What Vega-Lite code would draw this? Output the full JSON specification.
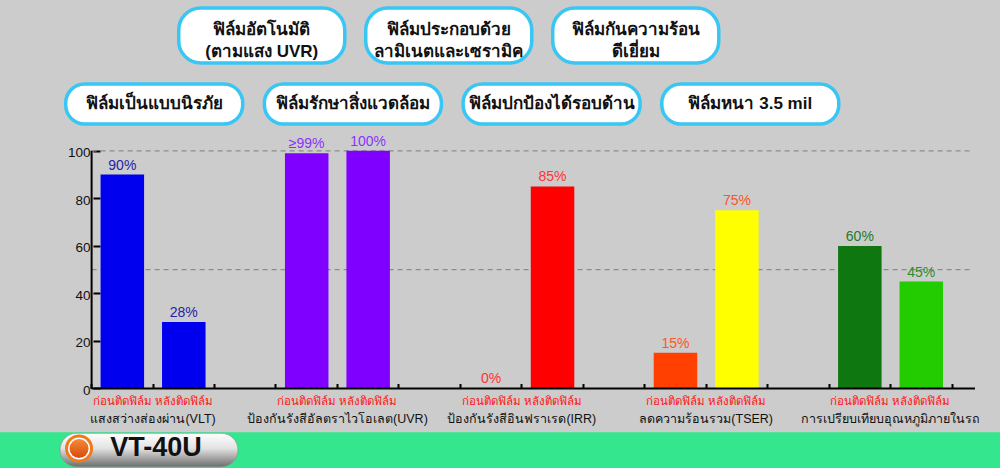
{
  "$schema": "https://vega.github.io/schema/vega-lite/v6.json",
  "width": 1000,
  "height": 473,
  "autosize": {"type": "none"},
  "padding": 0,
  "background": "#cccccc",
  "config": {"view": {"stroke": null}},
  "datasets": {
    "bars": [
      {"bar": "VLT-before", "metric": "แสงสว่างส่องผ่าน(VLT)", "state": "ก่อนติดฟิล์ม", "value": 90, "label": "90%"},
      {"bar": "VLT-after", "metric": "แสงสว่างส่องผ่าน(VLT)", "state": "หลังติดฟิล์ม", "value": 28, "label": "28%"},
      {"bar": "UVR-before", "metric": "ป้องกันรังสีอัลตราไวโอเลต(UVR)", "state": "ก่อนติดฟิล์ม", "value": 99, "label": "≥99%"},
      {"bar": "UVR-after", "metric": "ป้องกันรังสีอัลตราไวโอเลต(UVR)", "state": "หลังติดฟิล์ม", "value": 100, "label": "100%"},
      {"bar": "IRR-before", "metric": "ป้องกันรังสีอินฟราเรด(IRR)", "state": "ก่อนติดฟิล์ม", "value": 0, "label": "0%"},
      {"bar": "IRR-after", "metric": "ป้องกันรังสีอินฟราเรด(IRR)", "state": "หลังติดฟิล์ม", "value": 85, "label": "85%"},
      {"bar": "TSER-before", "metric": "ลดความร้อนรวม(TSER)", "state": "ก่อนติดฟิล์ม", "value": 15, "label": "15%"},
      {"bar": "TSER-after", "metric": "ลดความร้อนรวม(TSER)", "state": "หลังติดฟิล์ม", "value": 75, "label": "75%"},
      {"bar": "TEMP-before", "metric": "การเปรียบเทียบอุณหภูมิภายในรถ", "state": "ก่อนติดฟิล์ม", "value": 60, "label": "60%"},
      {"bar": "TEMP-after", "metric": "การเปรียบเทียบอุณหภูมิภายในรถ", "state": "หลังติดฟิล์ม", "value": 45, "label": "45%"}
    ],
    "features": [
      {"row": 1, "col": 1, "text": "ฟิล์มอัตโนมัติ\n(ตามแสง UVR)"},
      {"row": 1, "col": 2, "text": "ฟิล์มประกอบด้วย\nลามิเนตและเซรามิค"},
      {"row": 1, "col": 3, "text": "ฟิล์มกันความร้อน\nดีเยี่ยม"},
      {"row": 2, "col": 1, "text": "ฟิล์มเป็นแบบนิรภัย"},
      {"row": 2, "col": 2, "text": "ฟิล์มรักษาสิ่งแวดล้อม"},
      {"row": 2, "col": 3, "text": "ฟิล์มปกป้องได้รอบด้าน"},
      {"row": 2, "col": 4, "text": "ฟิล์มหนา 3.5 mil"}
    ],
    "gridlevels": [{"level": 50}, {"level": 100}],
    "model": [{"model": "VT-40U"}]
  },
  "resolve": {"scale": {"x": "independent"}},
  "layer": [
    {
      "layer": [
        {
          "data": {"name": "gridlevels"},
          "mark": {"type": "rule", "color": "#8c8c8c", "strokeWidth": 1.2, "strokeDash": [5, 4]},
          "encoding": {
            "y": {"field": "level", "type": "quantitative"},
            "x": {"datum": "VLT-before", "bandPosition": -0.2062},
            "x2": {"datum": "TEMP-after", "bandPosition": 1.62}
          }
        },
        {
          "data": {"name": "bars"},
          "mark": {"type": "bar"},
          "encoding": {
            "x": {
              "field": "bar", "type": "nominal",
              "scale": {
                "type": "band",
                "domain": ["lead", "VLT-before", "VLT-after", "gap1", "UVR-before", "UVR-after", "gap2", "IRR-before", "IRR-after", "gap3", "TSER-before", "TSER-after", "gap4", "TEMP-before", "TEMP-after"],
                "paddingInner": 0.292, "paddingOuter": 0.7815, "align": 0.4072, "round": false
              },
              "axis": {"orient": "bottom", "offset": -84.5, "labels": false, "domain": false, "grid": false, "title": null, "bandPosition": 1.2062, "tickSize": -5, "tickColor": "#000000", "tickWidth": 2}
            },
            "y": {
              "field": "value", "type": "quantitative",
              "scale": {"domain": [-35.55, 163.44], "nice": false, "zero": false},
              "axis": {"values": [0, 20, 40, 60, 80, 100], "offset": -93, "domain": false, "grid": false, "title": null, "tickSize": -7, "tickColor": "#000000", "tickWidth": 2, "labelPadding": 10, "labelFont": "Liberation Sans", "labelFontSize": 13.5, "labelColor": "#111111", "labelOffset": 2}
            },
            "y2": {"datum": 0},
            "color": {
              "field": "bar", "type": "nominal",
              "scale": {
                "domain": ["VLT-before", "VLT-after", "UVR-before", "UVR-after", "IRR-before", "IRR-after", "TSER-before", "TSER-after", "TEMP-before", "TEMP-after"],
                "range": ["#0000ee", "#0000ee", "#8000ff", "#8000ff", "#ff0000", "#ff0000", "#ff4000", "#ffff00", "#0f770f", "#22cc00"]
              },
              "legend": null
            }
          }
        },
        {
          "data": {"values": [{}]},
          "mark": {"type": "rule", "color": "#000000", "strokeWidth": 2},
          "encoding": {
            "x": {"datum": "VLT-before", "bandPosition": -0.2062},
            "y": {"datum": 0},
            "y2": {"datum": 100}
          }
        },
        {
          "data": {"values": [{}]},
          "mark": {"type": "rule", "color": "#000000", "strokeWidth": 2},
          "encoding": {
            "x": {"datum": "VLT-before", "bandPosition": -0.2062},
            "x2": {"datum": "TEMP-after", "bandPosition": 1.734},
            "y": {"datum": 0}
          }
        },
        {
          "data": {"name": "bars"},
          "mark": {"type": "text", "baseline": "alphabetic", "dy": -5, "font": "Liberation Sans", "fontSize": 14},
          "encoding": {
            "x": {"field": "bar", "type": "nominal"},
            "y": {"field": "value", "type": "quantitative"},
            "text": {"field": "label"},
            "fill": {
              "field": "bar", "type": "nominal",
              "scale": {
                "domain": ["VLT-before", "VLT-after", "UVR-before", "UVR-after", "IRR-before", "IRR-after", "TSER-before", "TSER-after", "TEMP-before", "TEMP-after"],
                "range": ["#2424a8", "#2424a8", "#8a33ff", "#8a33ff", "#ff3333", "#ff3333", "#ff5522", "#ff5522", "#1f7a1f", "#2e8b2e"]
              },
              "legend": null
            }
          }
        },
        {
          "data": {"name": "bars"},
          "mark": {"type": "text", "baseline": "alphabetic", "dy": 17, "fontSize": 11.5, "color": "#ff1414"},
          "encoding": {
            "x": {"field": "bar", "type": "nominal"},
            "y": {"datum": 0},
            "text": {"field": "state"}
          }
        },
        {
          "data": {"name": "bars"},
          "transform": [{"filter": "datum.state === 'หลังติดฟิล์ม'"}],
          "mark": {"type": "text", "baseline": "alphabetic", "dy": 34.5, "fontSize": 12.5, "color": "#111111"},
          "encoding": {
            "x": {"field": "bar", "type": "nominal", "bandPosition": -0.2062},
            "y": {"datum": 0},
            "text": {"field": "metric"}
          }
        }
      ]
    },
    {
      "data": {"name": "features"},
      "transform": [{"filter": "datum.row === 1"}],
      "layer": [
        {
          "mark": {"type": "rect", "fill": "#ffffff", "stroke": "#38c6f4", "strokeWidth": 3.5, "cornerRadius": 22},
          "encoding": {
            "x": {"field": "col", "type": "ordinal", "scale": {"type": "band", "domain": [1, 2, 3, 4], "paddingInner": 0.112, "paddingOuter": 0.7298, "align": 0.6548, "round": false}, "axis": null},
            "y": {"datum": 160.08},
            "y2": {"datum": 136.94}
          }
        },
        {
          "mark": {"type": "text", "fontSize": 17, "fontWeight": "bold", "lineBreak": "\n", "lineHeight": 22, "baseline": "middle", "color": "#111111"},
          "encoding": {
            "x": {"field": "col", "type": "ordinal", "axis": null},
            "y": {"datum": 150.9},
            "text": {"field": "text"}
          }
        }
      ]
    },
    {
      "data": {"name": "features"},
      "transform": [{"filter": "datum.row === 2"}],
      "layer": [
        {
          "mark": {"type": "rect", "fill": "#ffffff", "stroke": "#38c6f4", "strokeWidth": 3.5, "cornerRadius": 19},
          "encoding": {
            "x": {"field": "col", "type": "ordinal", "scale": {"type": "band", "paddingInner": 0.1092, "paddingOuter": 0.571, "align": 0.2896, "round": false}, "axis": null},
            "y": {"datum": 128.1},
            "y2": {"datum": 111.27}
          }
        },
        {
          "mark": {"type": "text", "fontSize": 17, "fontWeight": "bold", "color": "#111111"},
          "encoding": {
            "x": {"field": "col", "type": "ordinal", "axis": null},
            "y": {"datum": 119.69},
            "text": {"field": "text"}
          }
        }
      ]
    },
    {
      "data": {"name": "model"},
      "layer": [
        {
          "mark": {"type": "rect", "fill": "#34e68e"},
          "encoding": {"y": {"datum": -18.43}, "y2": {"datum": -33.45}}
        },
        {
          "mark": {"type": "rect", "fill": "#ffffff"},
          "encoding": {"y": {"datum": -33.45}, "y2": {"datum": -35.55}}
        },
        {
          "mark": {
            "type": "rect", "cornerRadius": 17, "stroke": "#8a8a8a", "strokeWidth": 0.6,
            "fill": {"gradient": "linear", "x1": 0, "y1": 0, "x2": 0, "y2": 1, "stops": [{"offset": 0, "color": "#ffffff"}, {"offset": 0.45, "color": "#e2e2e2"}, {"offset": 1, "color": "#6e6e6e"}]}
          },
          "encoding": {
            "x": {"field": "model", "type": "nominal", "scale": {"type": "band", "paddingInner": 0.567, "paddingOuter": 1, "align": 0.073, "round": false}, "axis": null},
            "y": {"datum": -18.85},
            "y2": {"datum": -32.9}
          }
        },
        {
          "mark": {"type": "point", "shape": "circle", "filled": true, "size": 784, "color": "#f07a1e", "opacity": 1},
          "encoding": {"x": {"field": "model", "type": "nominal", "bandPosition": 0.107}, "y": {"datum": -25.24}}
        },
        {
          "mark": {"type": "point", "shape": "circle", "filled": true, "size": 484, "color": "#ffffff", "opacity": 1},
          "encoding": {"x": {"field": "model", "type": "nominal", "bandPosition": 0.107}, "y": {"datum": -25.24}}
        },
        {
          "mark": {
            "type": "point", "shape": "circle", "filled": true, "size": 361, "opacity": 1,
            "fill": {"gradient": "linear", "x1": 0, "y1": 0, "x2": 0, "y2": 1, "stops": [{"offset": 0, "color": "#f58a3a"}, {"offset": 1, "color": "#d94a08"}]}
          },
          "encoding": {"x": {"field": "model", "type": "nominal", "bandPosition": 0.107}, "y": {"datum": -25.24}}
        },
        {
          "mark": {"type": "text", "font": "Liberation Sans", "fontSize": 27, "fontWeight": "bold", "color": "#111111"},
          "encoding": {"x": {"field": "model", "type": "nominal", "bandPosition": 0.539}, "y": {"datum": -25.24}, "text": {"field": "model"}}
        }
      ]
    }
  ]
}
